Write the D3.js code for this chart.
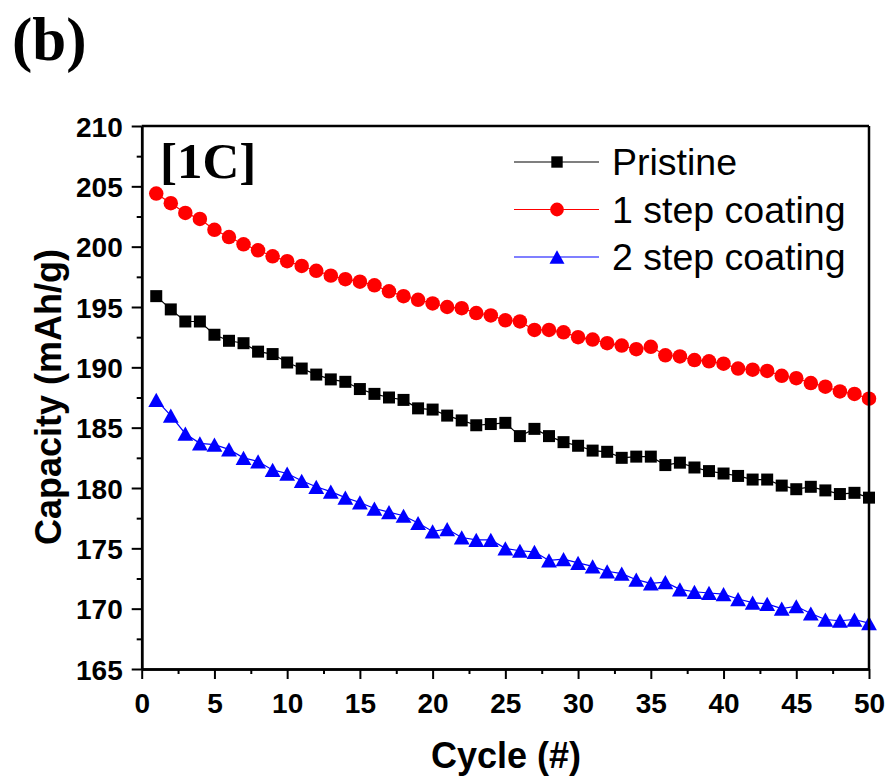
<!DOCTYPE html>
<html>
<head>
<meta charset="utf-8">
<script src="https://cdn.jsdelivr.net/npm/d3@7"></script>
<style>
  body { margin: 0; background: #fff; }
  svg { display: block; }
  text { font-family: "Liberation Sans", Arial, sans-serif; }
</style>
</head>
<body>
<svg id="chart" width="891" height="780"></svg>
<script>
// values, cycle 1..50
const pristine = [195.9, 194.8, 193.8, 193.8, 192.7, 192.2, 192.0, 191.3, 191.1, 190.4,
  189.9, 189.4, 189.0, 188.8, 188.2, 187.8, 187.5, 187.3, 186.6, 186.5,
  186.0, 185.6, 185.2, 185.3, 185.4, 184.3, 184.9, 184.3, 183.8, 183.5,
  183.1, 183.0, 182.5, 182.6, 182.6, 181.9, 182.1, 181.7, 181.4, 181.2,
  181.0, 180.7, 180.7, 180.2, 179.9, 180.1, 179.8, 179.5, 179.6, 179.2];
const oneStep = [204.4, 203.6, 202.8, 202.3, 201.4, 200.8, 200.2, 199.7, 199.2, 198.8,
  198.4, 198.0, 197.6, 197.3, 197.1, 196.8, 196.3, 195.9, 195.6, 195.3,
  195.0, 194.9, 194.5, 194.3, 193.9, 193.8, 193.1, 193.1, 192.9, 192.5,
  192.3, 192.0, 191.8, 191.5, 191.7, 191.0, 190.9, 190.6, 190.5, 190.3,
  189.9, 189.8, 189.7, 189.3, 189.1, 188.7, 188.4, 188.0, 187.8, 187.4];
const twoStep = [187.3, 186.0, 184.5, 183.7, 183.6, 183.2, 182.5, 182.2, 181.5, 181.2,
  180.6, 180.1, 179.7, 179.2, 178.8, 178.3, 178.0, 177.7, 177.1, 176.4,
  176.6, 175.9, 175.7, 175.7, 175.0, 174.8, 174.7, 174.0, 174.1, 173.8,
  173.5, 173.1, 172.9, 172.4, 172.1, 172.2, 171.6, 171.4, 171.3, 171.2,
  170.8, 170.5, 170.4, 170.0, 170.2, 169.6, 169.1, 169.0, 169.1, 168.8];

const seriesNames = ["Pristine", "1 step coating", "2 step coating"];
const xTicks = [0, 5, 10, 15, 20, 25, 30, 35, 40, 45, 50];
const xMinor = [2.5, 7.5, 12.5, 17.5, 22.5, 27.5, 32.5, 37.5, 42.5, 47.5];
const yTicks = [165, 170, 175, 180, 185, 190, 195, 200, 205, 210];
const yMinor = [167.5, 172.5, 177.5, 182.5, 187.5, 192.5, 197.5, 202.5, 207.5];

const svg = d3.select("#chart");

const plotLeft = 141.7, plotRight = 869, plotTop = 126, plotBottom = 669;
const x = d3.scaleLinear().domain([0, 50]).range([plotLeft, plotRight]);
const y = d3.scaleLinear().domain([165, 210]).range([plotBottom, plotTop]);

// triangle centred on its bounding box (like Origin), not on the centroid
const triangleBox = {
  draw(ctx, size) {
    const s = Math.sqrt(size);
    const h = s * 0.9;
    ctx.moveTo(0, -h / 2);
    ctx.lineTo(s / 2, h / 2);
    ctx.lineTo(-s / 2, h / 2);
    ctx.closePath();
  }
};

const series = [
  { name: seriesNames[0], values: pristine, color: "#000000", symbol: d3.symbolSquare, size: 144 },
  { name: seriesNames[1], values: oneStep, color: "#ff0000", symbol: d3.symbolCircle, size: 165 },
  { name: seriesNames[2], values: twoStep, color: "#0000ff", symbol: triangleBox, size: 250 }
];

// lines + markers
series.forEach(s => {
  const pts = s.values.map((v, i) => ({ c: i + 1, v: v }));
  svg.append("path")
    .datum(pts)
    .attr("fill", "none")
    .attr("stroke", s.color)
    .attr("stroke-width", 1.2)
    .attr("d", d3.line().x(d => x(d.c)).y(d => y(d.v)));

  svg.append("g").selectAll("path")
    .data(pts)
    .join("path")
    .attr("transform", d => `translate(${x(d.c)},${y(d.v)})`)
    .attr("d", d3.symbol().type(s.symbol).size(s.size))
    .attr("fill", s.color);
});

// frame top / right
svg.append("line")
  .attr("x1", plotLeft).attr("x2", plotRight).attr("y1", plotTop).attr("y2", plotTop)
  .attr("stroke", "#000").attr("stroke-width", 2.5);
svg.append("line")
  .attr("x1", plotRight).attr("x2", plotRight).attr("y1", plotTop).attr("y2", plotBottom)
  .attr("stroke", "#000").attr("stroke-width", 2.5);

// axes
const xAxis = svg.append("g")
  .attr("transform", `translate(0,${plotBottom})`)
  .call(d3.axisBottom(x).tickValues(xTicks).tickSize(10).tickSizeOuter(0).tickPadding(14));
const xMinorAxis = svg.append("g")
  .attr("transform", `translate(0,${plotBottom})`)
  .call(d3.axisBottom(x).tickValues(xMinor).tickSize(5).tickSizeOuter(0).tickFormat(""));

const yAxis = svg.append("g")
  .attr("transform", `translate(${plotLeft},0)`)
  .call(d3.axisLeft(y).tickValues(yTicks).tickSize(10).tickSizeOuter(0).tickPadding(9));
const yMinorAxis = svg.append("g")
  .attr("transform", `translate(${plotLeft},0)`)
  .call(d3.axisLeft(y).tickValues(yMinor).tickSize(5).tickSizeOuter(0).tickFormat(""));

[xAxis, xMinorAxis, yAxis, yMinorAxis].forEach(g => {
  g.select(".domain").attr("stroke", "#000").attr("stroke-width", 2.5);
  g.selectAll(".tick line").attr("stroke", "#000").attr("stroke-width", 2);
  g.selectAll(".tick text")
    .attr("fill", "#000")
    .style("font-family", "'Liberation Sans', Arial, sans-serif")
    .style("font-size", "28px")
    .style("font-weight", "bold");
});
yAxis.selectAll(".tick text").attr("dy", "0.36em");

// axis titles
svg.append("text")
  .attr("x", 506).attr("y", 768)
  .attr("text-anchor", "middle")
  .style("font-size", "36px").style("font-weight", "bold")
  .text("Cycle (#)");

svg.append("text")
  .attr("transform", "translate(61,397) rotate(-90)")
  .attr("text-anchor", "middle")
  .style("font-size", "36px").style("font-weight", "bold")
  .text("Capacity (mAh/g)");

// panel letter and rate
svg.append("text")
  .attr("x", 12).attr("y", 60)
  .style("font-family", "'Liberation Serif', 'Times New Roman', serif")
  .style("font-size", "61px").style("font-weight", "bold")
  .text("(b)");

svg.append("text")
  .attr("x", 160).attr("y", 178)
  .style("font-family", "'Liberation Serif', 'Times New Roman', serif")
  .style("font-size", "51px").style("font-weight", "bold")
  .text("[1C]");

// legend
const legendRows = [162, 209.5, 257];
const legend = svg.append("g");
series.forEach((s, i) => {
  const ly = legendRows[i];
  legend.append("line")
    .attr("x1", 514).attr("x2", 599).attr("y1", ly).attr("y2", ly)
    .attr("stroke", s.color).attr("stroke-width", 1.2);
  legend.append("path")
    .attr("transform", `translate(557,${ly})`)
    .attr("d", d3.symbol().type(s.symbol).size(s.size * 0.9))
    .attr("fill", s.color);
  legend.append("text")
    .attr("x", 612).attr("y", ly + 13)
    .style("font-size", "37.5px")
    .text(s.name);
});
</script>
</body>
</html>
